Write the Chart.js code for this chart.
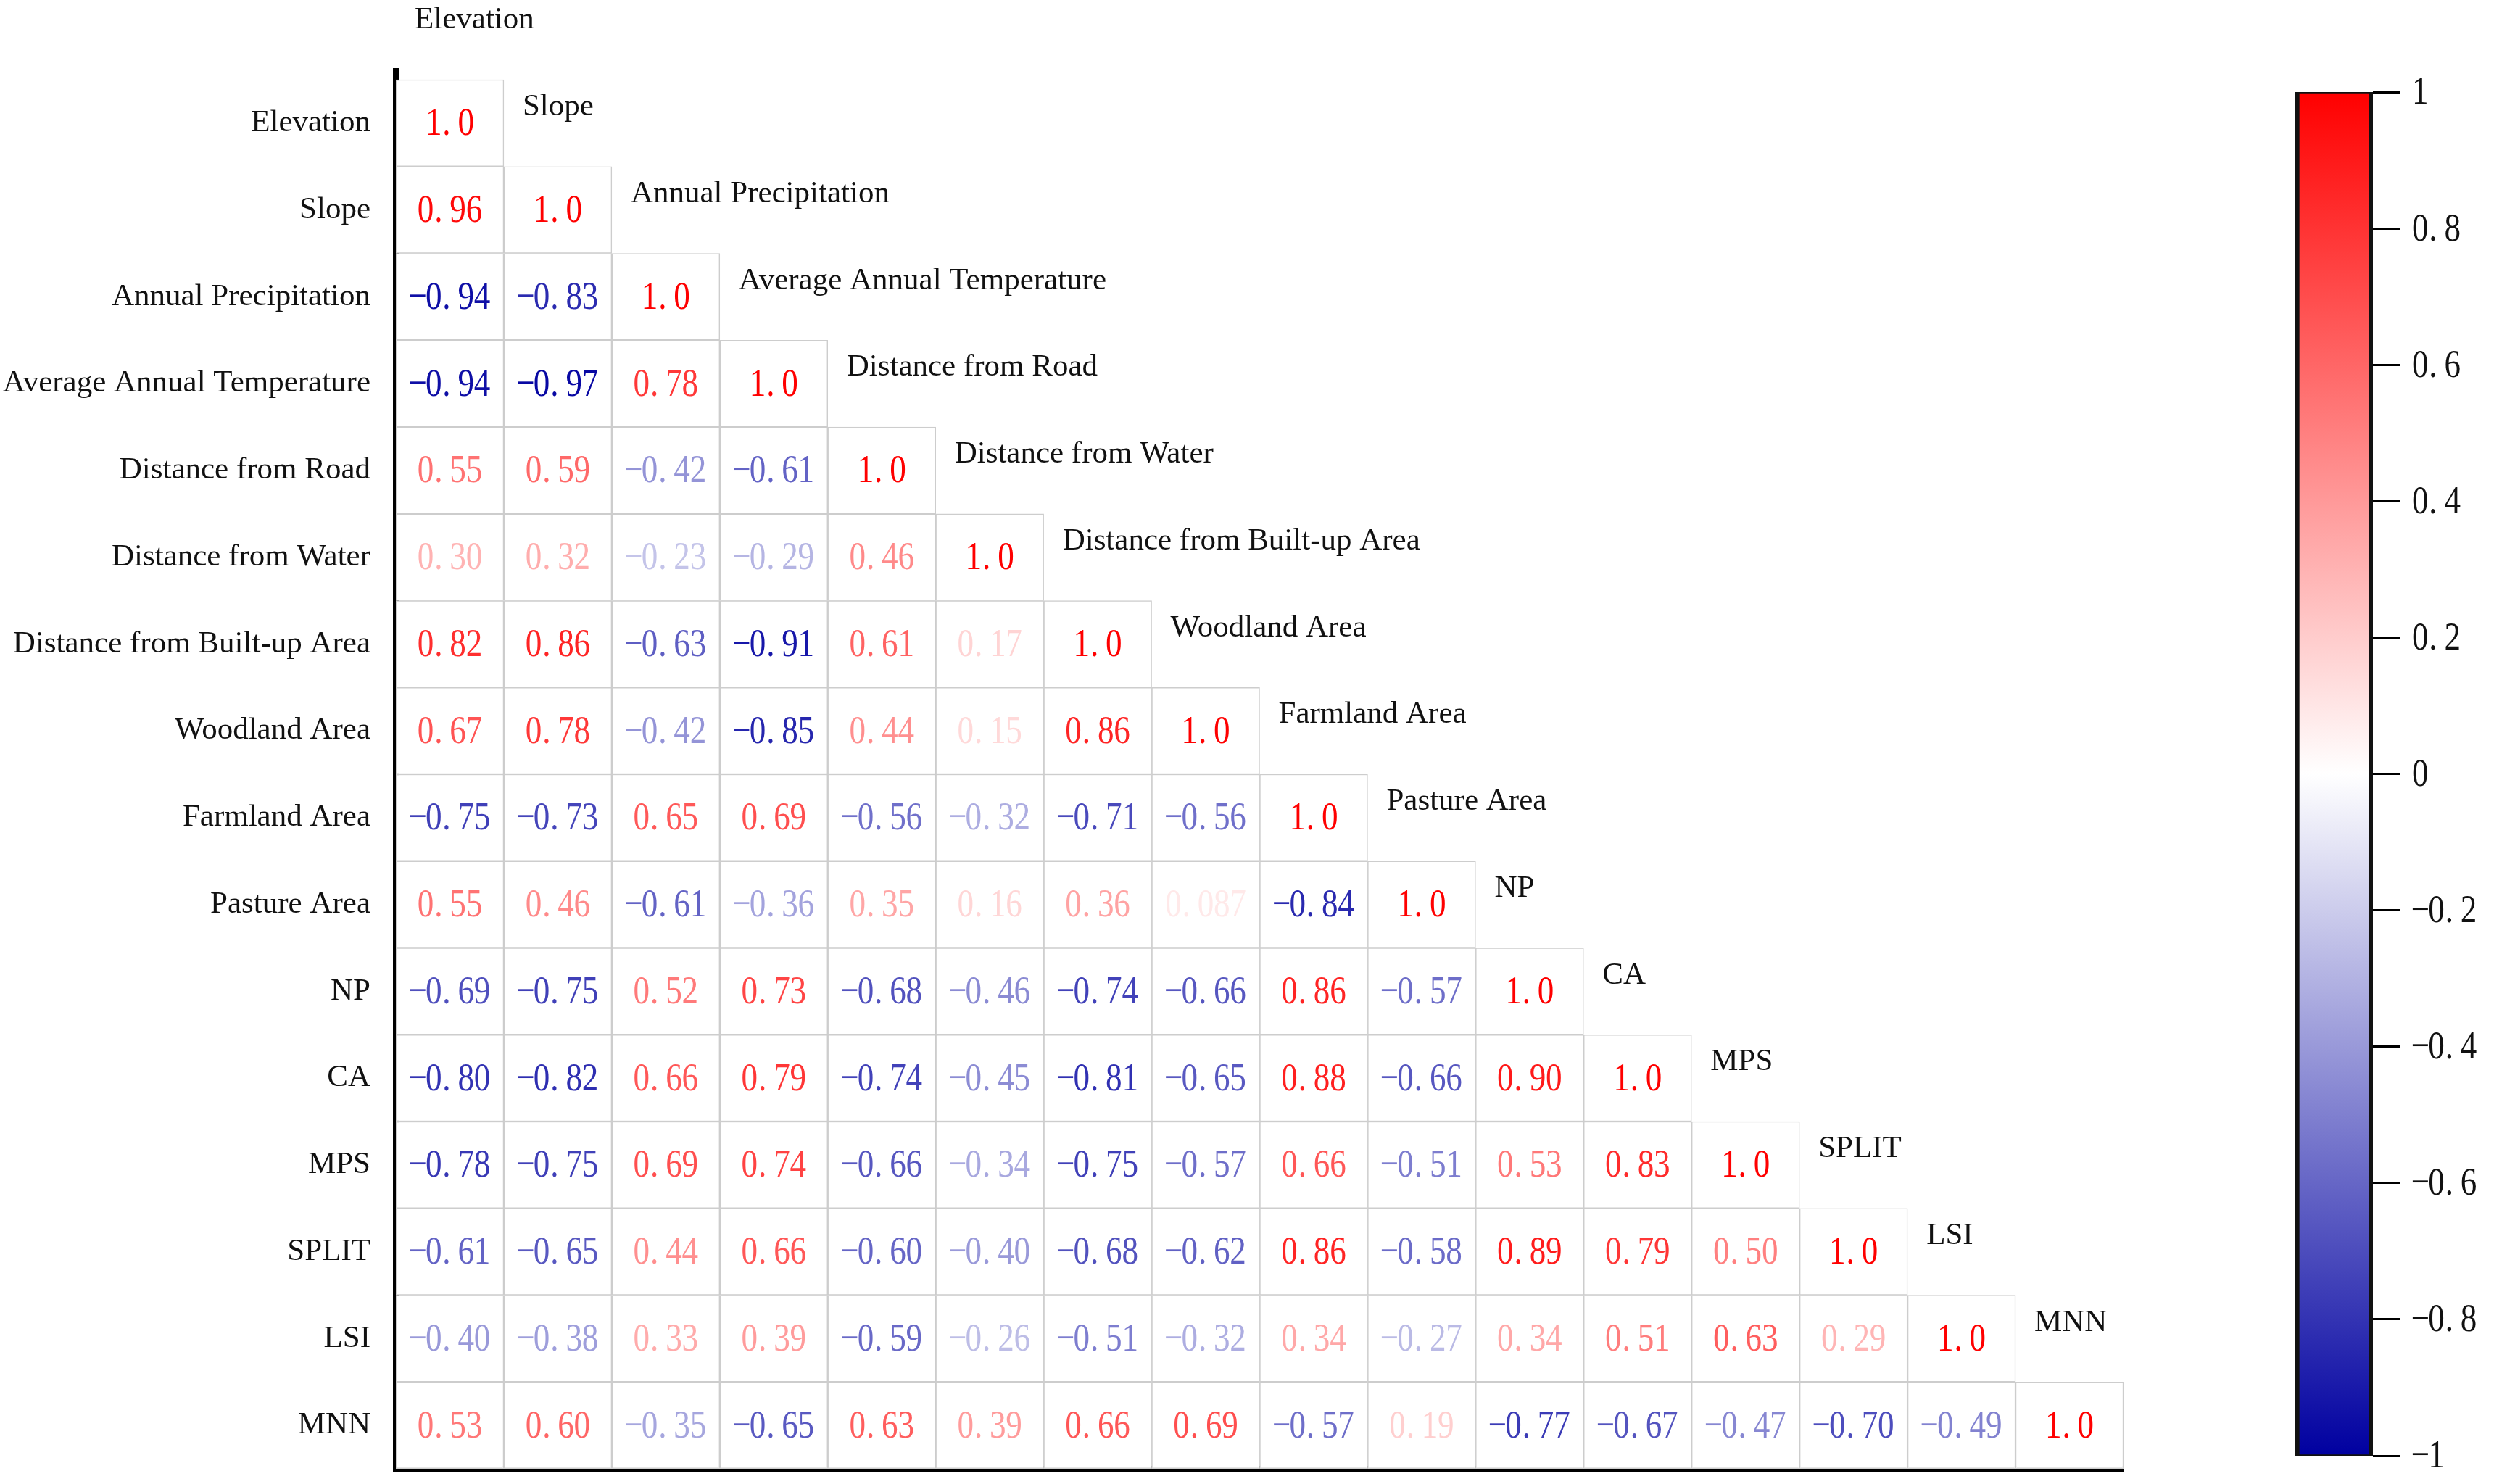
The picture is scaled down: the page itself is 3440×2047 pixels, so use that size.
<!DOCTYPE html>
<html>
<head>
<meta charset="utf-8">
<script src="https://cdn.jsdelivr.net/npm/chart.js@4.4.0/dist/chart.umd.min.js"></script>
<style>
  html, body { margin: 0; padding: 0; background: #fff; overflow: hidden; }
  #matrix { position: absolute; left: 0; top: 0; }
  #colorbar { position: absolute; left: 3050px; top: 0; }
</style>
</head>
<body>
<canvas id="matrix" width="3050" height="2047"></canvas>
<canvas id="colorbar" width="390" height="2047"></canvas>
<script>
var variables = [
  "Elevation", "Slope", "Annual Precipitation", "Average Annual Temperature",
  "Distance from Road", "Distance from Water", "Distance from Built-up Area",
  "Woodland Area", "Farmland Area", "Pasture Area", "NP", "CA", "MPS",
  "SPLIT", "LSI", "MNN"
];

// lower triangle, row i holds columns 0..i
var corrRows = [
  [1.0],
  [0.96, 1.0],
  [-0.94, -0.83, 1.0],
  [-0.94, -0.97, 0.78, 1.0],
  [0.55, 0.59, -0.42, -0.61, 1.0],
  [0.30, 0.32, -0.23, -0.29, 0.46, 1.0],
  [0.82, 0.86, -0.63, -0.91, 0.61, 0.17, 1.0],
  [0.67, 0.78, -0.42, -0.85, 0.44, 0.15, 0.86, 1.0],
  [-0.75, -0.73, 0.65, 0.69, -0.56, -0.32, -0.71, -0.56, 1.0],
  [0.55, 0.46, -0.61, -0.36, 0.35, 0.16, 0.36, 0.087, -0.84, 1.0],
  [-0.69, -0.75, 0.52, 0.73, -0.68, -0.46, -0.74, -0.66, 0.86, -0.57, 1.0],
  [-0.80, -0.82, 0.66, 0.79, -0.74, -0.45, -0.81, -0.65, 0.88, -0.66, 0.90, 1.0],
  [-0.78, -0.75, 0.69, 0.74, -0.66, -0.34, -0.75, -0.57, 0.66, -0.51, 0.53, 0.83, 1.0],
  [-0.61, -0.65, 0.44, 0.66, -0.60, -0.40, -0.68, -0.62, 0.86, -0.58, 0.89, 0.79, 0.50, 1.0],
  [-0.40, -0.38, 0.33, 0.39, -0.59, -0.26, -0.51, -0.32, 0.34, -0.27, 0.34, 0.51, 0.63, 0.29, 1.0],
  [0.53, 0.60, -0.35, -0.65, 0.63, 0.39, 0.66, 0.69, -0.57, 0.19, -0.77, -0.67, -0.47, -0.70, -0.49, 1.0]
];

var colorbarRange = [-1, 1];
var colorbarStep = 0.2;

var serif = '"Liberation Serif", "Times New Roman", serif';
var numFont = '55px ' + serif;
var numCell = 22.3;

function corrColor(v) {
  var t = Math.min(1, Math.abs(v));
  var c = Math.round(255 * (1 - t));
  if (v >= 0) return 'rgb(255,' + c + ',' + c + ')';
  return 'rgb(' + c + ',' + c + ',' + Math.round(255 - 95 * t) + ')';
}

function fmtValue(v) {
  var s;
  if (v === 1) s = '1.0';
  else if (Math.abs(v) < 0.1) s = v.toFixed(3);
  else s = v.toFixed(2);
  return s.replace('-', '\u2212');
}

// fixed advance per character and narrow glyphs, like the CJK font of the original
function drawMono(ctx, str, x, y, align) {
  var chars = Array.from(str);
  var w = chars.length * numCell;
  var left = align === 'left' ? x : x - w / 2;
  ctx.textAlign = 'center';
  ctx.textBaseline = 'middle';
  chars.forEach(function (ch, k) {
    var cx = left + k * numCell + numCell / 2;
    if (ch === '.') cx = left + k * numCell + numCell * 0.3;
    ctx.save();
    ctx.translate(cx, y);
    ctx.scale(0.82, 1);
    ctx.fillText(ch, 0, 0);
    ctx.restore();
  });
}

var rowDatasets = corrRows.map(function (row, i) {
  return {
    label: variables[i],
    data: variables.map(function (_, j) { return j <= i ? [i, i + 1] : null; }),
    backgroundColor: '#ffffff',
    borderColor: '#cdcdcd',
    borderWidth: 1.5,
    borderSkipped: false,
    grouped: false,
    barPercentage: 1,
    categoryPercentage: 1
  };
});

var cellText = {
  id: 'cellText',
  afterDatasetsDraw: function (chart) {
    var ctx = chart.ctx;
    ctx.save();
    ctx.font = numFont;
    corrRows.forEach(function (row, i) {
      var meta = chart.getDatasetMeta(i);
      row.forEach(function (v, j) {
        var p = meta.data[j].getProps(['x', 'y', 'base'], true);
        ctx.fillStyle = corrColor(v);
        drawMono(ctx, fmtValue(v), p.x, (p.y + p.base) / 2 + 2, 'center');
      });
    });
    ctx.restore();
  }
};

var columnLabels = {
  id: 'columnLabels',
  afterDraw: function (chart) {
    var ctx = chart.ctx;
    var xs = chart.scales.x, ys = chart.scales.y;
    var colW = xs.width / variables.length;
    ctx.save();
    ctx.font = '43px ' + serif;
    ctx.fillStyle = '#111';
    ctx.textAlign = 'left';
    ctx.textBaseline = 'middle';
    variables.forEach(function (name, j) {
      var x = xs.getPixelForValue(j) - colW / 2 + 26;
      var y = ys.getPixelForValue(j - 0.5) - 22;
      ctx.fillText(name, x, y);
    });
    ctx.restore();
  }
};

new Chart('matrix', {
  type: 'bar',
  data: { labels: variables, datasets: rowDatasets },
  options: {
    responsive: false,
    animation: false,
    layout: { padding: { left: 0, top: 98, right: 121, bottom: 21 } },
    plugins: { legend: { display: false }, tooltip: { enabled: false } },
    scales: {
      x: {
        type: 'category',
        afterFit: function (scale) {
          scale.height = 0;
          scale.paddingLeft = 0;
          scale.paddingRight = 0;
        },
        ticks: { display: false },
        grid: { display: false, drawTicks: false },
        border: { display: true, color: '#000', width: 8 }
      },
      y: {
        type: 'linear',
        reverse: true,
        min: -0.1,
        max: variables.length,
        afterFit: function (scale) {
          scale.width = 546;
          scale.paddingTop = 0;
          scale.paddingBottom = 0;
        },
        afterBuildTicks: function (scale) {
          scale.ticks = variables.map(function (_, i) { return { value: i + 0.5 }; });
        },
        ticks: {
          autoSkip: false,
          padding: 35,
          color: '#111',
          font: { family: serif, size: 43 },
          callback: function (value, index) { return variables[index]; }
        },
        grid: { display: false, drawTicks: false },
        border: { display: true, color: '#000', width: 8 }
      }
    }
  },
  plugins: [cellText, columnLabels]
});

var colorbarTicks = {
  id: 'colorbarTicks',
  afterDraw: function (chart) {
    var ctx = chart.ctx;
    var ys = chart.scales.y;
    ctx.save();
    ctx.font = numFont;
    ctx.fillStyle = '#111';
    ys.ticks.forEach(function (t) {
      var v = Math.round(t.value * 10) / 10;
      var s = String(v).replace('-', '\u2212');
      drawMono(ctx, s, ys.right + 16, ys.getPixelForValue(t.value) + 2, 'left');
    });
    ctx.restore();
  }
};

new Chart('colorbar', {
  type: 'bar',
  data: {
    labels: [''],
    datasets: [{
      data: [colorbarRange],
      backgroundColor: function (c) {
        var area = c.chart.chartArea;
        if (!area) return '#fff';
        var g = c.chart.ctx.createLinearGradient(0, area.bottom, 0, area.top);
        g.addColorStop(0, corrColor(colorbarRange[0]));
        g.addColorStop(0.5, corrColor(0));
        g.addColorStop(1, corrColor(colorbarRange[1]));
        return g;
      },
      borderColor: '#111',
      borderWidth: { left: 6, right: 6, top: 2, bottom: 2 },
      borderSkipped: false,
      barPercentage: 1,
      categoryPercentage: 1
    }]
  },
  options: {
    responsive: false,
    animation: false,
    layout: { padding: { left: 116, top: 127, right: 129, bottom: 39 } },
    plugins: { legend: { display: false }, tooltip: { enabled: false } },
    scales: {
      x: { display: false },
      y: {
        position: 'right',
        min: colorbarRange[0],
        max: colorbarRange[1],
        ticks: { display: false, stepSize: colorbarStep },
        grid: { drawOnChartArea: false, drawTicks: true, tickLength: 38, color: '#000', lineWidth: 3 },
        border: { display: false }
      }
    }
  },
  plugins: [colorbarTicks]
});
</script>
</body>
</html>
